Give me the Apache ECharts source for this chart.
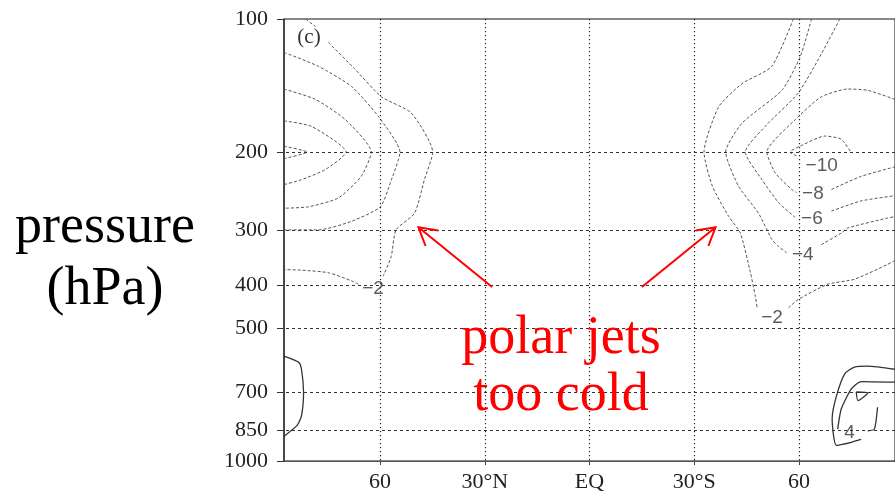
<!DOCTYPE html>
<html>
<head>
<meta charset="utf-8">
<script src="https://cdn.jsdelivr.net/npm/echarts@6/dist/echarts.min.js"></script>
<style>html,body{margin:0;padding:0;background:#fff;}#c{width:895px;height:493px;}</style>
</head>
<body>
<div id="c"></div>
<script>
// ---- axes ----
const pLevels = [100, 200, 300, 400, 500, 700, 850, 1000];
const pGridLines = [200, 300, 400, 500, 700, 850];
const latTicks = [60, 30, 0, -30, -60];
const latTickLabels = ['60', '30°N', 'EQ', '30°S', '60'];

// ---- contour lines: [latitude (N +, S -), pressure hPa] ----
const nhNeg2a = [[81.3,100],[78.5,104]];
const nhNeg2b = [[74.8,113],[67.1,130],[59.6,150],[51.1,163],[44.9,200],[47.3,231],[50.1,275],[55.4,300],[56.8,345],[59.1,382]];
const nhNeg2c = [[66.2,398],[68.2,391],[74.8,375],[82.5,370],[87.5,369]];
const nhNeg4 = [[87.5,119],[77.6,128],[68.2,142],[60.5,166],[54.3,200],[56.9,233],[59.9,266],[68.2,287],[77.6,300],[87.5,300]];
const nhNeg6 = [[87.5,144],[78.5,152],[69.9,169],[62.5,200],[65.4,227],[71.9,254],[80.5,266],[87.5,268]];
const nhNeg8 = [[87.5,170],[79.6,175],[69.7,200],[75.6,219],[82.5,231],[87.5,237]];
const nhNeg10 = [[87.5,194],[80.9,200],[87.5,207]];
const nhPos2 = [[87.5,579],[83.3,598],[82.5,620],[81.9,698],[82.5,791],[83.8,832],[87.5,879]];

const shNeg2a = [[-58.4,100],[-52.2,128],[-43.7,140],[-37.0,158],[-32.8,200],[-35.2,239],[-39.9,280],[-43.2,305],[-46.1,375],[-47.5,424],[-48.0,450]];
const shNeg2b = [[-57.0,450],[-59.8,431],[-68.3,398],[-75.9,388],[-85.4,359],[-87.5,352]];
const shNeg4a = [[-63.6,100],[-60.3,122],[-55.1,145],[-43.7,172],[-39.0,200],[-42.7,239],[-48.4,275],[-52.2,315],[-54.1,327],[-56.5,338]];
const shNeg4b = [[-66.4,324],[-72.1,305],[-74.0,297],[-85.4,282],[-87.5,280]];
const shNeg6a = [[-71.7,100],[-66.4,120],[-59.8,147],[-50.3,175],[-44.6,200],[-49.4,231],[-54.1,260],[-58.9,281]];
const shNeg6b = [[-69.3,272],[-77.8,258],[-87.5,251]];
const shNeg8a = [[-87.5,152],[-79.7,145],[-74.0,144],[-66.4,150],[-58.9,169],[-50.8,200],[-53.2,223],[-57.9,243],[-59.3,247]];
const shNeg8b = [[-69.3,243],[-77.8,227],[-87.5,216]];
const shNeg10 = [[-59.3,204],[-57.4,200],[-60.3,194],[-67.4,184],[-72.1,187],[-75.0,201]];
const shPos2 = [[-87.5,620],[-79.7,610],[-75.9,613],[-73.1,635],[-70.7,714],[-69.5,801],[-70.7,922],[-75.0,907],[-77.8,894]];
const shPos4a = [[-87.5,663],[-77.8,661],[-75.0,687],[-72.1,763],[-71.1,847]];
const shPos4b = [[-79.7,855],[-81.6,847],[-82.5,756]];
const shPos6 = [[-76.4,698],[-79.7,702],[-76.9,730],[-76.4,698]];

// contour labels: [lat, pressure, text]
const contourLabels = [[62.0,407,'−2'],[-52.3,475,'−2'],[-61.1,341,'−4'],[-63.7,283,'−6'],[-64.0,248,'−8'],[-66.5,215,'−10'],[-74.5,865,'4']];

// annotation arrows (tip, tail)
const arrowTips = [[49.0,296],[-36.1,296]];
const arrowTails = [[27.9,404],[-15.0,404]];

const dashedLines = [nhNeg2a,nhNeg2b,nhNeg2c,nhNeg4,nhNeg6,nhNeg8,nhNeg10,shNeg2a,shNeg2b,shNeg4a,shNeg4b,shNeg6a,shNeg6b,shNeg8a,shNeg8b,shNeg10];
const solidLines = [nhPos2,shPos2,shPos4a,shPos4b,shPos6];

const serif = '"Liberation Serif", "Times New Roman", serif';

const series = [];
// grid lines (drawn through markLine on an empty series)
series.push({
  type: 'line', data: [], silent: true, animation: false,
  markLine: {
    silent: true, animation: false, symbol: ['none','none'], label: {show:false},
    data: pGridLines.map(p => ({yAxis: p, lineStyle: {type: [3,3], color: '#333', width: 1}}))
      .concat(latTicks.map(l => ({xAxis: l, lineStyle: {type: [1.2,2.8], color: '#222', width: 1.2}})))
  }
});
dashedLines.forEach(d => series.push({
  type: 'line', data: d, showSymbol: false, silent: true, animation: false, z: 3, smooth: 0.2,
  lineStyle: {color: '#555', width: 1, type: [3,2]}
}));
solidLines.forEach(d => series.push({
  type: 'line', data: d, showSymbol: false, silent: true, animation: false, z: 3, smooth: 0.2,
  lineStyle: {color: '#333', width: 1.3}
}));
series.push({
  type: 'scatter', data: contourLabels, symbolSize: 0, silent: true, animation: false, z: 4,
  label: {show: true, position: 'inside', formatter: p => p.value[2],
    fontFamily: '"Liberation Sans", Arial, sans-serif', fontSize: 19, color: '#333'}
});

const chart = echarts.init(document.getElementById('c'), null, {renderer: 'canvas'});
chart.setOption({
  animation: false,
  backgroundColor: '#fff',
  grid: {left: 284, top: 19, width: 615.5, height: 443, show: true, borderColor: '#111', borderWidth: 1, containLabel: false},
  xAxis: {
    type: 'value', min: -87.5, max: 87.5, inverse: true,
    axisLine: {show: true, onZero: false, lineStyle: {color: '#555', width: 1.2}},
    axisTick: {show: true, length: 4, customValues: latTicks, lineStyle: {color: '#444'}},
    axisLabel: {show: true, customValues: latTicks, margin: 10,
      formatter: v => latTickLabels[latTicks.indexOf(v)] || '',
      fontFamily: serif, fontSize: 22, color: '#222'},
    splitLine: {show: false}
  },
  yAxis: {
    type: 'log', logBase: 10, min: 100, max: 1000, inverse: true,
    axisLine: {show: true, onZero: false, lineStyle: {color: '#333', width: 1.5}},
    axisTick: {show: true, length: 7, customValues: pLevels, lineStyle: {color: '#333'}},
    axisLabel: {show: true, customValues: pLevels, margin: 16,
      formatter: v => String(Math.round(v)),
      fontFamily: serif, fontSize: 22, color: '#222'},
    splitLine: {show: false}, minorTick: {show: false}
  },
  series: series
});

function headFor(tip, tail) {
  const t = chart.convertToPixel({gridIndex: 0}, tip);
  const b = chart.convertToPixel({gridIndex: 0}, tail);
  const ang = Math.atan2(b[1] - t[1], b[0] - t[0]);
  const L = 20, a = Math.PI / 6;
  return {
    shaft: [t, b],
    head: [[t[0] + L*Math.cos(ang + a), t[1] + L*Math.sin(ang + a)], t, [t[0] + L*Math.cos(ang - a), t[1] + L*Math.sin(ang - a)]]
  };
}
const graphics = [];
arrowTips.forEach((tip, i) => {
  const h = headFor(tip, arrowTails[i]);
  graphics.push({type: 'polyline', shape: {points: h.shaft}, style: {stroke: '#ff0000', lineWidth: 2, fill: null}, z: 10});
  graphics.push({type: 'polyline', shape: {points: h.head}, style: {stroke: '#ff0000', lineWidth: 2, fill: null}, z: 10});
});
const bigFont = '54px ' + serif;
graphics.push({type: 'text', x: 105, y: 228, style: {text: 'pressure', font: bigFont, fill: '#000', align: 'center', verticalAlign: 'middle'}});
graphics.push({type: 'text', x: 105, y: 290, style: {text: '(hPa)', font: bigFont, fill: '#000', align: 'center', verticalAlign: 'middle'}});
graphics.push({type: 'text', x: 561, y: 339, z: 10, style: {text: 'polar jets', font: bigFont, fill: '#ff0000', align: 'center', verticalAlign: 'middle'}});
graphics.push({type: 'text', x: 561, y: 396, z: 10, style: {text: 'too cold', font: bigFont, fill: '#ff0000', align: 'center', verticalAlign: 'middle'}});
graphics.push({type: 'text', x: 309, y: 37, z: 10, style: {text: '(c)', font: '21px ' + serif, fill: '#333', align: 'center', verticalAlign: 'middle'}});
chart.setOption({graphic: graphics});
</script>
</body>
</html>
